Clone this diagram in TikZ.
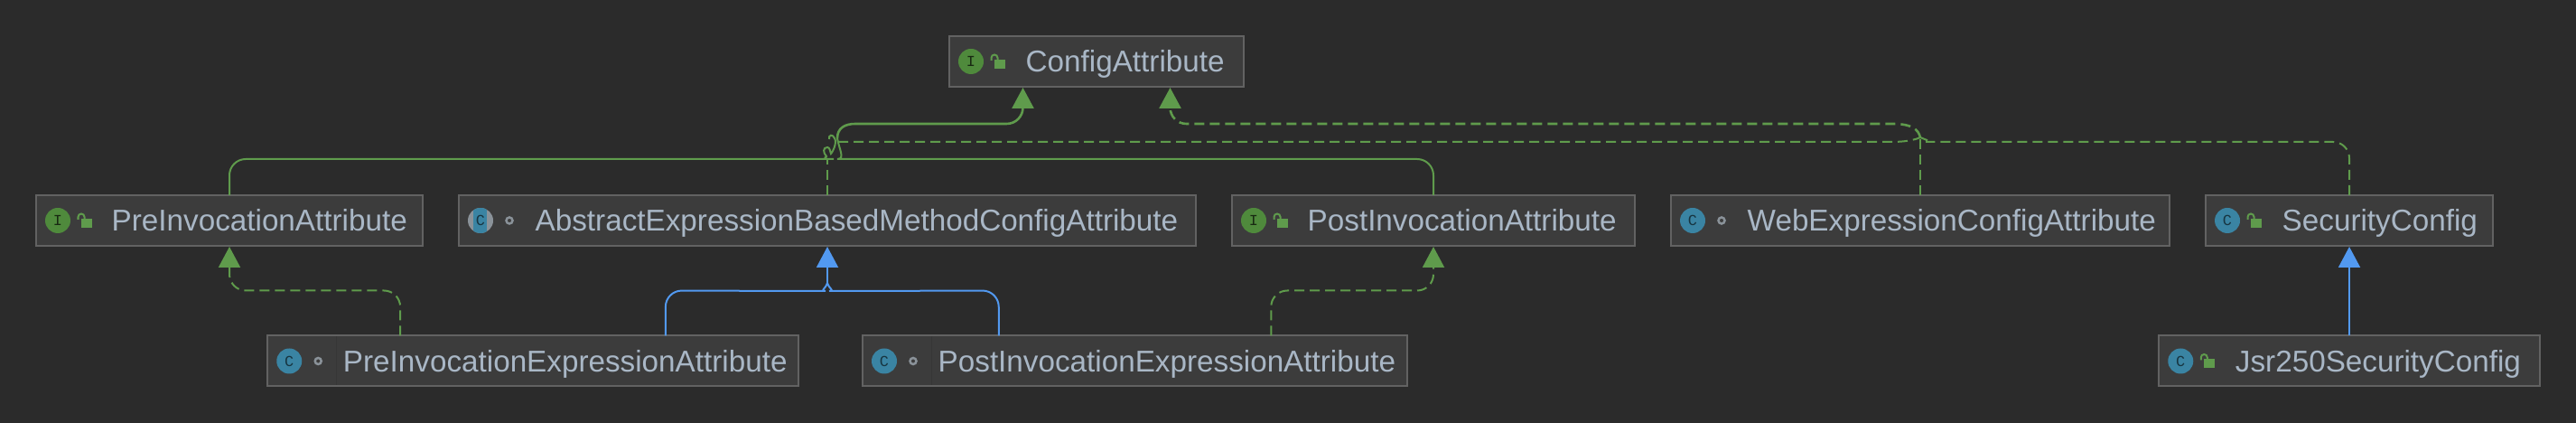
\documentclass[tikz,border=0pt]{standalone}
\usepackage{fontspec}
\setmainfont{Liberation Sans}
\setmonofont{Liberation Mono}
\usepackage{tikz}
\usetikzlibrary{arrows.meta,positioning,calc}
\usepackage{xcolor}

\definecolor{canvasdark}{HTML}{2B2B2B}
\definecolor{boxfill}{HTML}{3C3C3C}
\definecolor{boxedge}{HTML}{626262}
\definecolor{boxsplit}{HTML}{363636}
\definecolor{nametext}{HTML}{A9B7C6}
\definecolor{implgreen}{HTML}{5F9B4C}
\definecolor{ifacegreen}{HTML}{4F8A3C}
\definecolor{classteal}{HTML}{3A84A3}
\definecolor{extendblue}{HTML}{5299F0}
\definecolor{ringgray}{HTML}{8A9299}

\begin{document}
\begin{tikzpicture}[
    classbox/.style={draw=boxedge, fill=boxfill, line width=0.02cm, minimum height=0.56cm, outer sep=0pt, inner sep=0pt},
    classname/.style={anchor=base west, inner sep=0pt, text=nametext, font=\fontsize{9.46}{11}\selectfont},
    ifacebadge/.style={circle, fill=ifacegreen, minimum size=0.28cm, inner sep=0pt, text=black!70!ifacegreen, font=\ttfamily\fontsize{4.8}{5}\selectfont},
    classbadge/.style={circle, fill=classteal, minimum size=0.28cm, inner sep=0pt, text=black!60!classteal, font=\ttfamily\fontsize{4.8}{5}\selectfont},
    abstractbadge/.style={classbadge, fill=ringgray, path picture={\fill[classteal] ([xshift=-0.08cm]path picture bounding box.south) rectangle ([xshift=0.07cm]path picture bounding box.north);}},
    ringmark/.style={circle, draw=ringgray, line width=0.025cm, minimum size=0.07cm, inner sep=0pt},
    lockopen/.pic={
        \fill[implgreen] (-0.06,-0.05) rectangle (0.06,0.05);
        \draw[implgreen, line width=0.02cm] (-0.095,0.04) -- (-0.095,0.07) arc (180:0:0.035) -- (-0.025,0.05);
    },
    solidedge/.style={draw=implgreen, line width=0.02cm},
    dashedge/.style={draw=implgreen, line width=0.02cm, dash pattern=on 0.11cm off 0.06cm},
    blueedge/.style={draw=extendblue, line width=0.02cm},
    softbend/.style={rounded corners=0.18cm},
    greentip/.style={-{Triangle[length=0.23cm, width=0.24cm, fill=implgreen]}, shorten >=0.01cm},
    bluetip/.style={-{Triangle[length=0.23cm, width=0.24cm, fill=extendblue]}, shorten >=0.01cm}
]

\fill[canvasdark] (0,0) rectangle (28.52,4.68);
\path[use as bounding box] (0,0) rectangle (28.52,4.68);

% top row
\node[classbox, minimum width=3.26cm] (config) at (12.14, 4.00) {};
\node[ifacebadge] (configBadge) at ([xshift=0.24cm]config.west) {I};
\pic at ([xshift=0.56cm,yshift=-0.03cm]config.west) {lockopen};
\node[classname] (configName) at ([xshift=0.84cm,yshift=-0.12cm]config.west) {ConfigAttribute};

% middle row
\node[classbox, minimum width=4.28cm] (preAttr) at (2.54, 2.24) {};
\node[ifacebadge] (preAttrBadge) at ([xshift=0.24cm]preAttr.west) {I};
\pic at ([xshift=0.56cm,yshift=-0.03cm]preAttr.west) {lockopen};
\node[classname] (preAttrName) at ([xshift=0.83cm,yshift=-0.12cm]preAttr.west) {PreInvocationAttribute};

\node[classbox, minimum width=8.16cm] (abstract) at (9.16, 2.24) {};
\node[abstractbadge] (abstractBadge) at ([xshift=0.24cm]abstract.west) {C};
\node[ringmark] (abstractRing) at ([xshift=0.56cm]abstract.west) {};
\node[classname] (abstractName) at ([xshift=0.84cm,yshift=-0.12cm]abstract.west) {AbstractExpressionBasedMethodConfigAttribute};

\node[classbox, minimum width=4.46cm] (postAttr) at (15.87, 2.24) {};
\node[ifacebadge] (postAttrBadge) at ([xshift=0.24cm]postAttr.west) {I};
\pic at ([xshift=0.56cm,yshift=-0.03cm]postAttr.west) {lockopen};
\node[classname] (postAttrName) at ([xshift=0.83cm,yshift=-0.12cm]postAttr.west) {PostInvocationAttribute};

\node[classbox, minimum width=5.52cm] (webAttr) at (21.26, 2.24) {};
\node[classbadge] (webBadge) at ([xshift=0.24cm]webAttr.west) {C};
\node[ringmark] (webRing) at ([xshift=0.56cm]webAttr.west) {};
\node[classname] (webName) at ([xshift=0.84cm,yshift=-0.12cm]webAttr.west) {WebExpressionConfigAttribute};

\node[classbox, minimum width=3.18cm] (security) at (26.01, 2.24) {};
\node[classbadge] (securityBadge) at ([xshift=0.24cm]security.west) {C};
\pic at ([xshift=0.56cm,yshift=-0.03cm]security.west) {lockopen};
\node[classname] (securityName) at ([xshift=0.84cm,yshift=-0.12cm]security.west) {SecurityConfig};

% bottom row
\node[classbox, minimum width=5.875cm] (preExpr) at (5.90, 0.685) {};
\node[classbadge] (preExprBadge) at ([xshift=0.24cm]preExpr.west) {C};
\node[ringmark] (preExprRing) at ([xshift=0.56cm]preExpr.west) {};
\draw[boxsplit, line width=0.01cm] ([xshift=0.76cm,yshift=0.27cm]preExpr.west) -- ([xshift=0.76cm,yshift=-0.27cm]preExpr.west);
\node[classname] (preExprName) at ([xshift=0.83cm,yshift=-0.12cm]preExpr.west) {PreInvocationExpressionAttribute};

\node[classbox, minimum width=6.03cm] (postExpr) at (12.565, 0.685) {};
\node[classbadge] (postExprBadge) at ([xshift=0.24cm]postExpr.west) {C};
\node[ringmark] (postExprRing) at ([xshift=0.56cm]postExpr.west) {};
\draw[boxsplit, line width=0.01cm] ([xshift=0.76cm,yshift=0.27cm]postExpr.west) -- ([xshift=0.76cm,yshift=-0.27cm]postExpr.west);
\node[classname] (postExprName) at ([xshift=0.83cm,yshift=-0.12cm]postExpr.west) {PostInvocationExpressionAttribute};

\node[classbox, minimum width=4.215cm] (jsrConfig) at (26.01, 0.685) {};
\node[classbadge] (jsrBadge) at ([xshift=0.24cm]jsrConfig.west) {C};
\pic at ([xshift=0.56cm,yshift=-0.03cm]jsrConfig.west) {lockopen};
\node[classname] (jsrName) at ([xshift=0.84cm,yshift=-0.12cm]jsrConfig.west) {Jsr250SecurityConfig};

% ports and junctions
\coordinate (configSolid) at ($(config.south west)!0.25!(config.south east)$);
\coordinate (configDash) at ($(config.south west)!0.75!(config.south east)$);
\coordinate (preExprDash) at ($(preExpr.north west)!0.25!(preExpr.north east)$);
\coordinate (preExprBlue) at ($(preExpr.north west)!0.75!(preExpr.north east)$);
\coordinate (postExprBlue) at ($(postExpr.north west)!0.25!(postExpr.north east)$);
\coordinate (postExprDash) at ($(postExpr.north west)!0.75!(postExpr.north east)$);
\coordinate (solidKnot) at (9.27, 3.15);
\coordinate (dashStart) at (9.28, 3.11);
\coordinate (dashHub) at (21.26, 3.16);
\coordinate (blueHub) at (9.16, 1.55);

% solid green lines
\draw[solidedge, softbend] (preAttr.north) -- (2.54,2.92) -- (9.05,2.92) [sharp corners]
    .. controls (9.10,2.92) and (9.13,2.93) .. (9.15,2.95)
    .. controls (9.11,2.99) and (9.11,3.05) .. (9.16,3.05)
    .. controls (9.19,3.05) and (9.19,3.00) .. (9.20,2.98)
    .. controls (9.22,3.00) and (9.27,3.10) .. (9.24,3.15)
    .. controls (9.22,3.20) and (9.17,3.19) .. (9.18,3.14);
\draw[solidedge, softbend] (postAttr.north) -- (15.87,2.92) -- (9.45,2.92) [sharp corners]
    .. controls (9.36,2.92) and (9.29,3.03) .. (solidKnot);
\draw[solidedge, greentip, line width=0.026cm] (solidKnot)
    .. controls (9.27,3.26) and (9.35,3.31) .. (9.47,3.31) [softbend] -- (11.325,3.31) -- (configSolid);

% dashed green lines
\draw[dashedge] (abstract.north) -- (9.16,2.93);
\draw[dashedge] (dashStart) -- (20.95,3.11) .. controls (21.08,3.11) and (21.20,3.13) .. (dashHub);
\draw[dashedge, softbend] (security.north) -- (26.01,3.11) -- (21.50,3.11) [sharp corners] .. controls (21.42,3.11) and (21.32,3.13) .. (dashHub);
\draw[dashedge] (webAttr.north) -- (dashHub);
\draw[dashedge, greentip, line width=0.026cm] (dashHub)
    .. controls (21.24,3.24) and (21.18,3.31) .. (20.95,3.31) [softbend] -- (12.955,3.31) -- (configDash);
\draw[dashedge, softbend, greentip] (preExprDash) -- ++(0,0.50) -| (preAttr.south);
\draw[dashedge, softbend, greentip] (postExprDash) -- ++(0,0.50) -| (postAttr.south);

% blue lines
\draw[blueedge, softbend] (preExprBlue) -- ++(0,0.50) -- (8.96,1.46) [sharp corners] .. controls (9.07,1.46) and (9.14,1.48) .. (blueHub);
\draw[blueedge, softbend] (postExprBlue) -- ++(0,0.50) -- (9.36,1.46) [sharp corners] .. controls (9.25,1.46) and (9.18,1.48) .. (blueHub);
\draw[blueedge, bluetip] (blueHub) -- (abstract.south);
\draw[blueedge, bluetip] (jsrConfig.north) -- (security.south);

\end{tikzpicture}
\end{document}
